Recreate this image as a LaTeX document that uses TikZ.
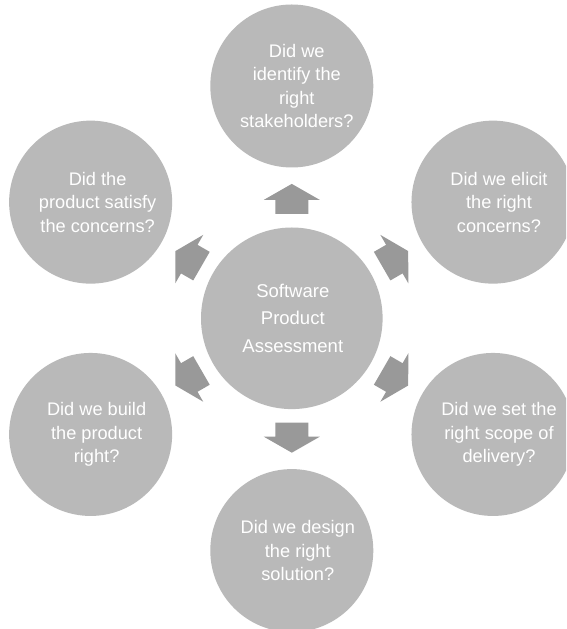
\documentclass[tikz,border=0pt]{standalone}
\usepackage{fontspec}
\setmainfont{Liberation Sans}
\definecolor{circfill}{RGB}{185,185,185}
\definecolor{arrfill}{RGB}{153,153,153}
\begin{document}
\begin{tikzpicture}[x=1pt,y=1pt,
  bubble/.style={circle, fill=circfill, draw=none, minimum size=163pt, inner sep=0pt},
  hub/.style={circle, fill=circfill, draw=none, minimum size=181.6pt, inner sep=0pt},
  qtext/.style={text=white, align=center, inner sep=0pt, font=\fontsize{18.2}{23.5}\selectfont},
  hubtext/.style={text=white, align=center, inner sep=0pt, font=\fontsize{18.5}{27.7}\selectfont},
  blockarrow/.style={fill=arrfill, draw=none}]
\clip (0,0) rectangle (566,629);
\fill[white] (0,0) rectangle (566,629);
\node[hub] (hub) at (291.8,310.7) {};
\node[hubtext] (hubt) at ([xshift=1pt]hub.center) {Software\\Product\\Assessment};
\foreach \name/\ang in {q1/90, q2/30, q3/-30, q4/-90, q5/-150, q6/150}
  \path (hub.center) ++(\ang:232.3) node[bubble] (\name) {};
\node[qtext] (t1) at ([xshift=5pt]q1.center) {Did we\\identify the\\right\\stakeholders?};
\node[qtext] (t2) at ([xshift=6pt]q2.center) {Did we elicit\\the right\\concerns?};
\node[qtext] (t3) at ([xshift=6pt]q3.center) {Did we set the\\right scope of\\delivery?};
\node[qtext] (t4) at ([xshift=6pt]q4.center) {Did we design\\the right\\solution?};
\node[qtext] (t5) at ([xshift=6pt]q5.center) {Did we build\\the product\\right?};
\node[qtext] (t6) at ([xshift=7pt]q6.center) {Did the\\product satisfy\\the concerns?};
\foreach \ang in {90,30,-30,-90,-150,150}
  \fill[blockarrow, shift={(hub.center)}, rotate=\ang]
    (104.3,-16.5) -- (118.4,-16.5) -- (118.4,-28) -- (134.4,0)
    -- (118.4,28) -- (118.4,16.5) -- (104.3,16.5) -- cycle;
\end{tikzpicture}
\end{document}
